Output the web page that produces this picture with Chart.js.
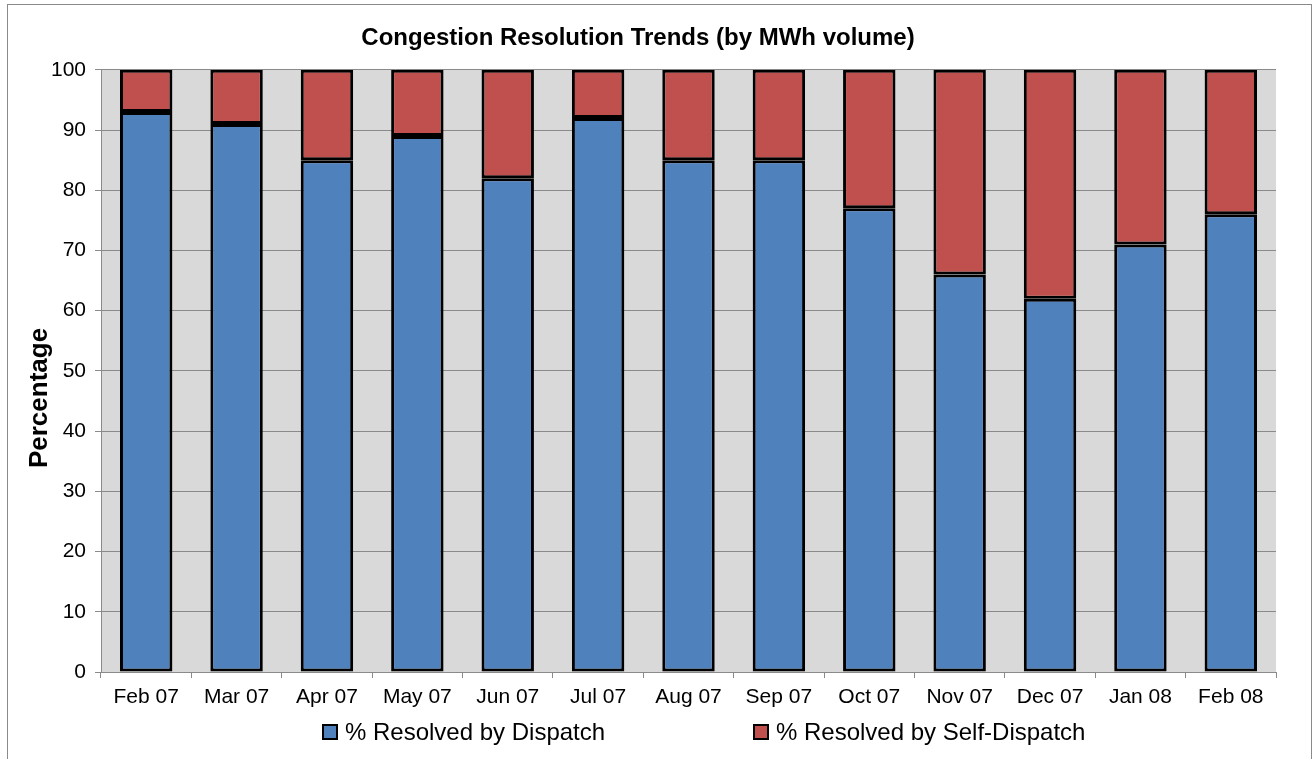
<!DOCTYPE html>
<html>
<head>
<meta charset="utf-8">
<script src="https://cdn.jsdelivr.net/npm/chart.js@4.4.1/dist/chart.umd.min.js"></script>
<style>
    html, body { margin: 0; padding: 0; background: #fff; }
    #wrap { position: relative; width: 1312px; height: 759px; overflow: hidden; }
    #frame { position: absolute; left: 7px; top: 4px; width: 1305px; height: 780px; border: 1px solid #8a8a8a; box-sizing: border-box; }
    #chartBox { position: absolute; left: 0; top: 0; width: 1312px; height: 759px; }
    .legend-item { position: absolute; top: 718px; height: 28px; display: flex; align-items: center;
        font-family: "Liberation Sans", Arial, sans-serif; font-size: 24px; color: #000; white-space: nowrap; }
    .legend-box { width: 16px; height: 16px; border: 2px solid #000; box-sizing: border-box; margin-right: 7px; }
</style>
</head>
<body>
<div id="wrap">
    <div id="frame"></div>
    <div id="chartBox"><canvas id="congestionChart"></canvas></div>
    <div id="legend"></div>
</div>
<script>
const months = ['Feb 07', 'Mar 07', 'Apr 07', 'May 07', 'Jun 07', 'Jul 07', 'Aug 07', 'Sep 07', 'Oct 07', 'Nov 07', 'Dec 07', 'Jan 08', 'Feb 08'];
const dispatchPct = [93, 91, 85, 89, 82, 92, 85, 85, 77, 66, 62, 71, 76];
const selfDispatchPct = [7, 9, 15, 11, 18, 8, 15, 15, 23, 34, 38, 29, 24];
const seriesNames = ['% Resolved by Dispatch', '% Resolved by Self-Dispatch'];
const seriesColors = ['#4F81BD', '#C0504D'];
const yTicks = [0, 10, 20, 30, 40, 50, 60, 70, 80, 90, 100];

document.addEventListener('DOMContentLoaded', function() {
    const fontFamily = '"Liberation Sans", Arial, sans-serif';

    // gray plot background like the excel chart
    const plotBackground = {
        id: 'plotBackground',
        beforeDraw: function(chart) {
            const a = chart.chartArea;
            const ctx = chart.ctx;
            ctx.save();
            ctx.fillStyle = '#D9D9D9';
            ctx.fillRect(a.left, a.top, a.right - a.left, a.bottom - a.top);
            ctx.restore();
        }
    };

    // y axis title sits a bit below the middle in the original, so draw it by hand
    const yTitle = {
        id: 'yTitle',
        afterDraw: function(chart) {
            const ctx = chart.ctx;
            ctx.save();
            ctx.translate(40, 398);
            ctx.rotate(-Math.PI / 2);
            ctx.font = 'bold 26px ' + fontFamily;
            ctx.fillStyle = '#000';
            ctx.textAlign = 'center';
            ctx.textBaseline = 'middle';
            ctx.fillText('Percentage', 0, 0);
            ctx.restore();
        }
    };

    const ctx = document.getElementById('congestionChart').getContext('2d');
    new Chart(ctx, {
        type: 'bar',
        data: {
            labels: months,
            datasets: [
                {
                    label: seriesNames[0],
                    data: dispatchPct,
                    backgroundColor: seriesColors[0],
                    borderColor: '#000',
                    borderWidth: 3,
                    borderSkipped: false,
                    barPercentage: 0.58,
                    categoryPercentage: 1
                },
                {
                    label: seriesNames[1],
                    data: selfDispatchPct,
                    backgroundColor: seriesColors[1],
                    borderColor: '#000',
                    borderWidth: 3,
                    borderSkipped: false,
                    barPercentage: 0.58,
                    categoryPercentage: 1
                }
            ]
        },
        options: {
            responsive: true,
            maintainAspectRatio: false,
            animation: false,
            layout: {
                padding: { left: 0, right: 36, top: 0, bottom: 47 }
            },
            scales: {
                x: {
                    stacked: true,
                    afterFit: function(scale) { scale.height = 40; },
                    grid: {
                        offset: true,
                        drawOnChartArea: false,
                        drawTicks: true,
                        tickLength: 6,
                        color: '#8a8a8a'
                    },
                    border: { color: '#8a8a8a' },
                    ticks: {
                        color: '#000',
                        padding: 7,
                        maxRotation: 0,
                        font: { family: fontFamily, size: 21 }
                    }
                },
                y: {
                    stacked: true,
                    min: 0,
                    max: 100,
                    afterFit: function(scale) { scale.width = 101; },
                    afterBuildTicks: function(scale) {
                        scale.ticks = yTicks.map(v => ({ value: v }));
                    },
                    grid: {
                        color: '#8a8a8a',
                        tickLength: 6
                    },
                    border: { color: '#8a8a8a' },
                    ticks: {
                        color: '#000',
                        padding: 9,
                        font: { family: fontFamily, size: 21 }
                    }
                }
            },
            plugins: {
                legend: { display: false },
                tooltip: { enabled: false },
                title: {
                    display: true,
                    text: 'Congestion Resolution Trends (by MWh volume)',
                    color: '#000',
                    padding: { top: 24, bottom: 17 },
                    font: { family: fontFamily, size: 24, weight: 'bold' }
                }
            }
        },
        plugins: [plotBackground, yTitle]
    });

    // legend below the plot
    const legendLeft = [322, 753];
    const legend = document.getElementById('legend');
    seriesNames.forEach(function(name, i) {
        const item = document.createElement('div');
        item.className = 'legend-item';
        item.style.left = legendLeft[i] + 'px';
        const box = document.createElement('span');
        box.className = 'legend-box';
        box.style.background = seriesColors[i];
        const txt = document.createElement('span');
        txt.textContent = name;
        item.appendChild(box);
        item.appendChild(txt);
        legend.appendChild(item);
    });
});
</script>
</body>
</html>
